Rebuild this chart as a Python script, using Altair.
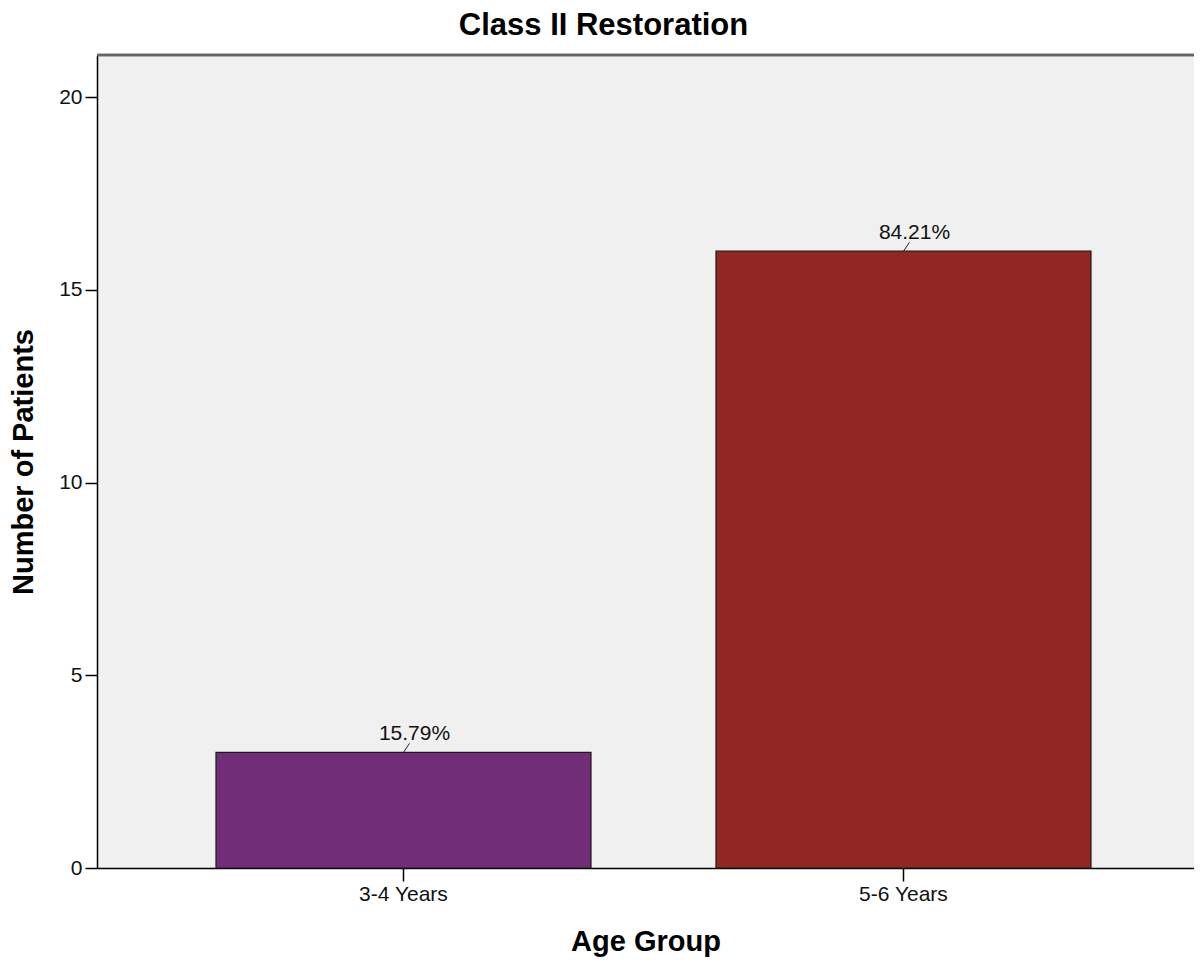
import altair as alt
import pandas as pd

ages = ["3-4 Years", "5-6 Years"]
counts = [3, 16]
pct_labels = ["15.79%", "84.21%"]
bar_colors = ["#722D78", "#912722"]

df = pd.DataFrame({"age": ages, "count": counts, "pct": pct_labels})

W, H = 1097, 813
FONT = "Liberation Sans"

x_enc = alt.X(
    "age:N",
    sort=ages,
    scale=alt.Scale(paddingInner=0.25, paddingOuter=0.222, align=0.536),
    axis=alt.Axis(
        title="Age Group",
        labelAngle=0,
        labelFont=FONT,
        labelFontSize=21,
        labelColor="#111",
        labelPadding=2,
        tickSize=13,
        tickColor="#000",
        tickWidth=1.5,
        domainColor="#000",
        domainWidth=1.5,
        titleFont=FONT,
        titleFontSize=29,
        titleFontWeight="bold",
        titleColor="#000",
        titlePadding=23,
    ),
)
y_scale = alt.Scale(domain=[0, 21.09], nice=False, zero=True)

bars = alt.Chart(df).mark_bar(stroke="#1a1a1a", strokeWidth=1.2).encode(
    x=x_enc,
    y=alt.Y(
        "count:Q",
        scale=y_scale,
        axis=alt.Axis(
            title="Number of Patients",
            values=[0, 5, 10, 15, 20],
            grid=False,
            labelFont=FONT,
            labelFontSize=21,
            labelColor="#111",
            labelPadding=3,
            tickSize=12,
            tickColor="#000",
            tickWidth=1.5,
            domainColor="#000",
            domainWidth=1.5,
            titleFont=FONT,
            titleFontSize=29,
            titleFontWeight="bold",
            titleColor="#000",
            titlePadding=20,
        ),
    ),
    color=alt.Color("age:N", scale=alt.Scale(domain=ages, range=bar_colors), legend=None),
)

leaders = alt.Chart(df).mark_rule(color="#222", strokeWidth=1, x2Offset=6, y2Offset=-9).encode(
    x=alt.X("age:N", sort=ages),
    x2=alt.X2("age:N"),
    y=alt.Y("count:Q", scale=y_scale),
    y2=alt.Y2("count:Q"),
)

labels = alt.Chart(df).mark_text(
    font=FONT, fontSize=21, color="#111", dy=-18, dx=11, baseline="middle"
).encode(
    x=alt.X("age:N", sort=ages),
    y=alt.Y("count:Q", scale=y_scale),
    text="pct:N",
)

top_border = alt.Chart(df).mark_rule(color="#666", strokeWidth=2.5).encode(
    x=alt.value(0), x2=alt.value(W), y=alt.value(0)
)

chart = (
    alt.layer(bars, leaders, labels, top_border)
    .properties(
        width=W,
        height=H,
        title=alt.TitleParams(
            "Class II Restoration",
            font=FONT,
            fontSize=31,
            fontWeight="bold",
            color="#000",
            anchor="middle",
            dx=-42,
            offset=12,
        ),
        autosize=alt.AutoSizeParams(type="none"),
        padding={"left": 89, "top": 47, "right": 0, "bottom": 92},
    )
    .configure(background="white")
    .configure_view(fill="#F0F0F0", stroke=None)
)

chart.save("out.html", embed_options={"renderer": "svg", "actions": False})
